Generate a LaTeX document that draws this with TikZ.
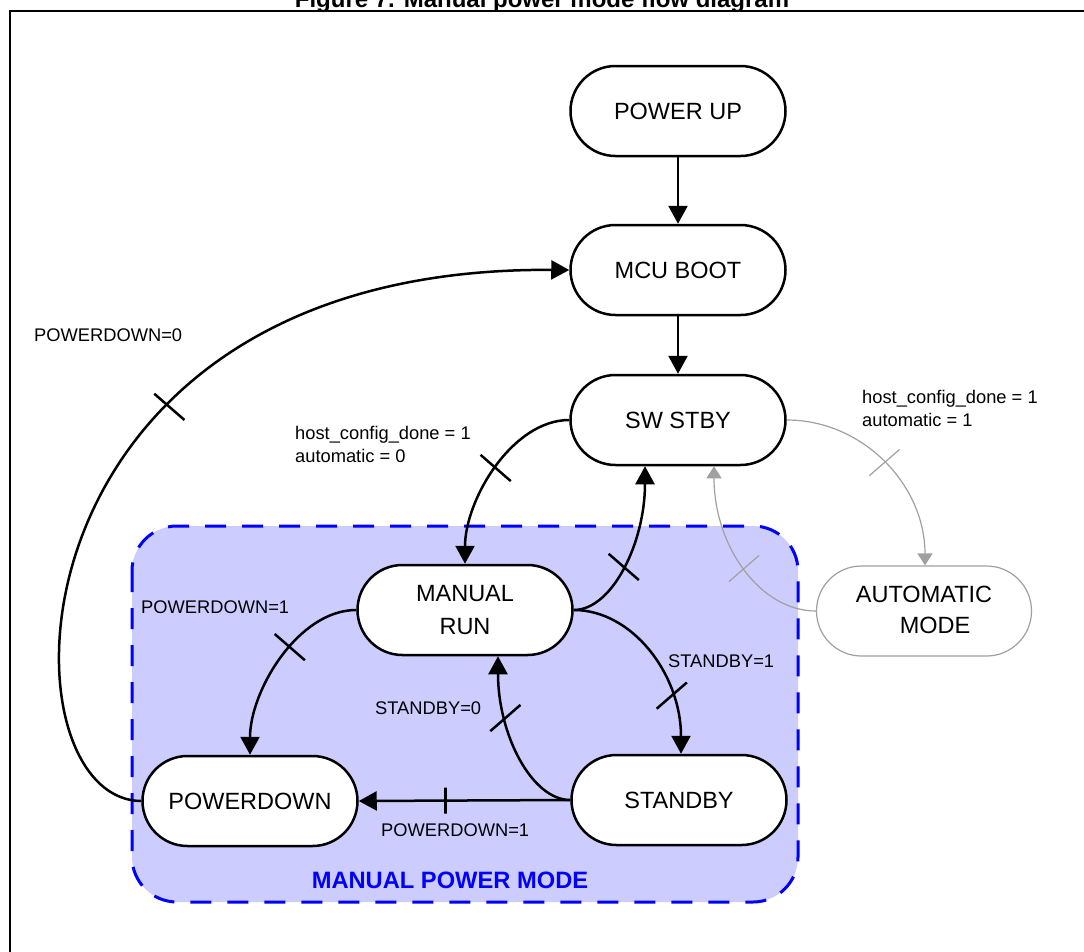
\documentclass[tikz,border=0pt]{standalone}
\usepackage{fontspec}
\setmainfont{Liberation Sans}
\usetikzlibrary{arrows.meta,calc}
\definecolor{regionfill}{RGB}{204,204,255}
\definecolor{regionblue}{RGB}{0,0,255}
\definecolor{autogray}{RGB}{160,160,160}
\tikzset{
  state/.style={draw, line width=2.5pt, fill=white, rectangle, rounded corners=45pt,
    minimum width=215pt, minimum height=90pt, inner sep=0pt, align=center,
    font=\fontsize{23.5}{33}\selectfont},
  autostate/.style={state, draw=autogray, line width=1.2pt, font=\fontsize{23.5}{31}\selectfont},
  flow/.style={draw=black, line width=2.5pt, -{Triangle[length=18pt,width=19pt]}},
  autoflow/.style={draw=autogray, line width=1.2pt, -{Triangle[length=12pt,width=15pt]}},
  crossat/.style 2 args={pos=#1, rotate=#2, -, draw, fill=none, rectangle, rounded corners=0pt,
    minimum width=0pt, minimum height=40pt, inner sep=0pt, outer sep=0pt},
  lbl/.style={font=\fontsize{18.3}{23}\selectfont, inner sep=0pt, anchor=base west},
  region/.style={fill=regionfill, draw=regionblue, line width=3pt, dash pattern=on 21pt off 16pt, rounded corners=45pt},
  frame/.style={draw=black, line width=2pt},
}
\begin{document}
\begin{tikzpicture}[x=1pt,y=1pt]
\useasboundingbox (0,0) rectangle (1084,-951);
% title (cut by top edge, as in the reference) and frame
\node[anchor=base, inner sep=0pt, font=\fontsize{24}{28}\selectfont\bfseries] (title) at (542,-7) {Figure 7. Manual power mode flow diagram};
\draw[frame] (10,-1100) -- (10,-11) -- (1200,-11);
% manual power mode region
\draw[region] (132,-526) rectangle (798,-902);
\node[anchor=base, inner sep=0pt, text=regionblue, font=\fontsize{23.7}{28}\selectfont\bfseries] (mpm) at (450,-888) {MANUAL POWER MODE};
% states
\node[state] (pu) at (678,-111) {\raisebox{-3pt}{POWER UP}};
\node[state] (mcu) at (678,-270) {MCU BOOT};
\node[state] (sw) at (678,-420) {SW STBY};
\node[state] (mr) at (465,-610) {MANUAL\\RUN};
\node[autostate] (am) at (924,-611) {\raisebox{3pt}{AUTOMATIC}\\\hspace*{22pt}\raisebox{3pt}{MODE}};
\node[state] (pd) at (250,-801) {POWERDOWN};
\node[state] (sb) at (679,-800) {STANDBY};
% labels
\node[lbl] (l0) at (34,-341) {POWERDOWN=0};
\node[lbl] (hc0a) at (295,-439) {host\_config\_done = 1};
\node[lbl] (hc0b) at (295,-462) {automatic = 0};
\node[lbl] (hc1a) at (862,-403) {host\_config\_done = 1};
\node[lbl] (hc1b) at (862,-426) {automatic = 1};
\node[lbl] (l1) at (141,-613) {POWERDOWN=1};
\node[lbl] (l2) at (375,-714) {STANDBY=0};
\node[lbl] (l3) at (668,-667) {STANDBY=1};
\node[lbl] (l4) at (381,-836) {POWERDOWN=1};
% connectors
\draw[flow] (pu) -- (mcu);
\draw[flow] (mcu) -- (sw);
\draw[flow] (sw.west) .. controls (512,-420) and (465,-500) .. (mr.north)
  node[crossat={0.5}{49}, line width=2.5pt] (t1) {};
\draw[flow] (mr.east) .. controls (612,-610) and (645,-543) .. ([xshift=-33pt]sw.south)
  node[crossat={0.5}{49}, line width=2.5pt] (t2) {};
\draw[flow] (mr.east) .. controls (632,-610) and (681,-674) .. ([xshift=2pt]sb.north)
  node[crossat={0.74}{-49}, line width=2.5pt] (t3) {};
\draw[flow] (sb.west) .. controls (532,-800) and (498,-735) .. ([xshift=33pt]mr.south)
  node[crossat={0.72}{-49}, line width=2.5pt] (t4) {};
\draw[flow] (mr.west) .. controls (298,-610) and (250,-691) .. (pd.north)
  node[crossat={0.43}{49}, line width=2.5pt] (t5) {};
\draw[flow] (sb.west) -- (pd.east)
  node[crossat={0.59}{0}, line width=2.5pt, minimum height=26pt] (t6) {};
\draw[flow] (pd.west) .. controls (-5,-800) and (-5,-266) .. (mcu.west)
  node[crossat={0.665}{49}, line width=2.5pt] (t7) {};
\draw[autoflow] (sw.east) .. controls (863,-420) and (925,-485) .. ([xshift=1pt]am.north)
  node[crossat={0.5}{-49}, draw=autogray, line width=1.2pt] (t8) {};
\draw[autoflow] (am.west) .. controls (760,-611) and (714,-546) .. ([xshift=36pt]sw.south)
  node[crossat={0.5}{-49}, draw=autogray, line width=1.2pt] (t9) {};
\end{tikzpicture}
\end{document}
